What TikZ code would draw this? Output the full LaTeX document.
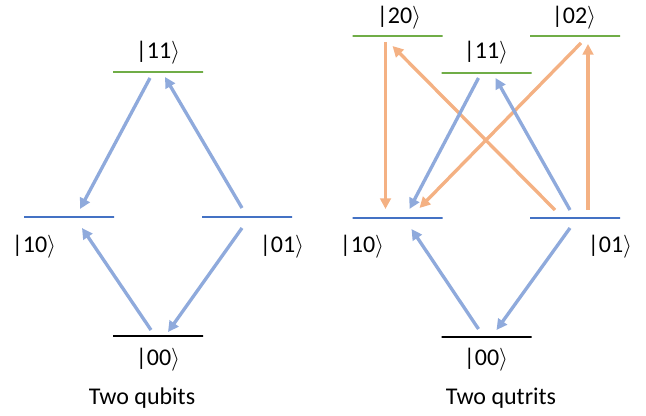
\documentclass[tikz,border=0pt]{standalone}
\usepackage{fontspec}
\setmainfont{Carlito}
\usepackage{tikz}
\usetikzlibrary{positioning, arrows.meta, calc}
\definecolor{lvlblue}{HTML}{4472C4}
\definecolor{lvlgreen}{HTML}{70AD47}
\definecolor{trblue}{HTML}{8FAADC}
\definecolor{trorange}{HTML}{F4B183}
\newcommand{\ketlbl}[1]{|#1$\rangle$}

\begin{document}
\begin{tikzpicture}[x=0.75pt, y=-0.75pt,
  level/.style={draw, line width=1pt, minimum width=67.5pt, minimum height=0pt, inner sep=0pt, outer sep=0pt},
  qb/.style={-{Triangle[length=8pt, width=8pt]}, draw=trblue, line width=2.5pt},
  qt/.style={-{Triangle[length=8pt, width=8pt]}, draw=trorange, line width=2.5pt},
  lbl/.style={font=\fontsize{18}{22}\selectfont, inner sep=0pt}]
\useasboundingbox (0,0) rectangle (646,416);
% two qubits
\node[level, draw=lvlgreen] (L11) at (158,72) {};
\node[level, draw=lvlblue] (L10) at (69,217) {};
\node[level, draw=lvlblue] (L01) at (247,217) {};
\node[level, draw=black] (L00) at (158,336) {};
\node[lbl] (t11) at (158,53) {\ketlbl{11}};
\node[lbl] (t10) at (34,247) {\ketlbl{10}};
\node[lbl] (t01) at (282,247) {\ketlbl{01}};
\node[lbl] (t00) at (158,360) {\ketlbl{00}};
\node[lbl] (tq) at (142,398) {Two qubits};
\draw[qb] ($(L11)+(-8,6)$) -- ($(L10)+(11,-8)$);
\draw[qb] ($(L01)+(-5,-9)$) -- ($(L11)+(7,5)$);
\draw[qb] ($(L00)+(-7,-6)$) -- ($(L10)+(13,11)$);
\draw[qb] ($(L01)+(-5,11)$) -- ($(L00)+(10,-4)$);
% two qutrits
\node[level, draw=lvlgreen] (R20) at (397.5,36) {};
\node[level, draw=lvlgreen] (R02) at (575,36) {};
\node[level, draw=lvlgreen] (R11) at (486.5,73) {};
\node[level, draw=lvlblue] (R10) at (397.5,218) {};
\node[level, draw=lvlblue] (R01) at (575,218) {};
\node[level, draw=black] (R00) at (486.5,337) {};
\node[lbl] (s20) at (399,18) {\ketlbl{20}};
\node[lbl] (s02) at (574,18) {\ketlbl{02}};
\node[lbl] (s11) at (486,53) {\ketlbl{11}};
\node[lbl] (s10) at (362,247) {\ketlbl{10}};
\node[lbl] (s01) at (610,247) {\ketlbl{01}};
\node[lbl] (s00) at (486,360) {\ketlbl{00}};
\node[lbl] (tt) at (501,398) {Two qutrits};
\draw[qt] ($(R20)+(-12,6)$) -- ($(R10)+(-12,-9)$);
\draw[qt] ($(R01)+(-20,-8)$) -- ($(R20)+(-5,10)$);
\draw[qt] ($(R02)+(6,7)$) -- ($(R10)+(22,-10)$);
\draw[qt] ($(R01)+(13,-8)$) -- ($(R02)+(13,8)$);
\draw[qb] ($(R11)+(-8,5)$) -- ($(R10)+(12,-9)$);
\draw[qb] ($(R01)+(-5,-8)$) -- ($(R11)+(9,5)$);
\draw[qb] ($(R00)+(-8,-8)$) -- ($(R10)+(14,11)$);
\draw[qb] ($(R01)+(-5,10)$) -- ($(R00)+(10,-7)$);
\end{tikzpicture}
\end{document}
